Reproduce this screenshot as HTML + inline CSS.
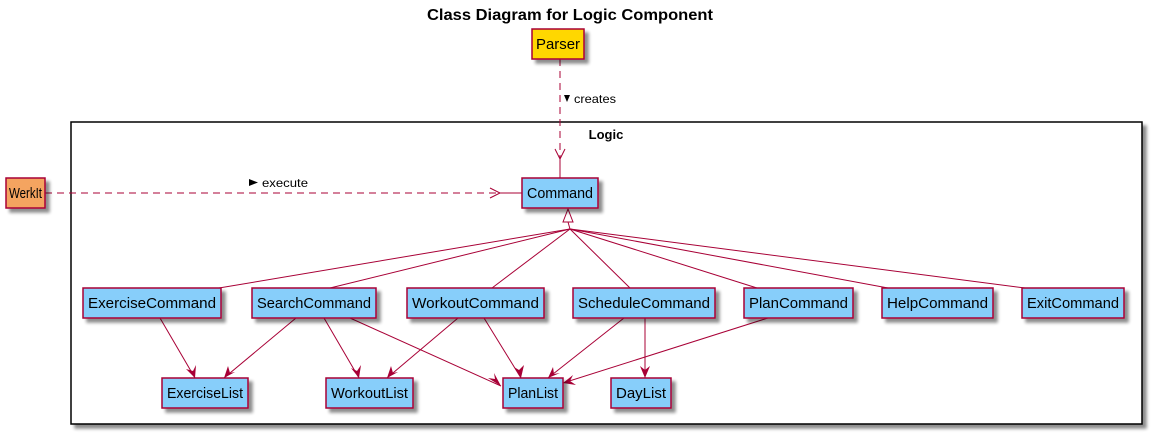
<!DOCTYPE html>
<html><head><meta charset="utf-8"><style>
html,body{margin:0;padding:0;background:#fff;width:1152px;height:434px;overflow:hidden}
svg text{font-family:"Liberation Sans",sans-serif}
</style></head><body>
<svg width="1152" height="434" viewBox="0 0 1152 434" xmlns="http://www.w3.org/2000/svg">
<defs>
<filter id="sh" x="-10%" y="-10%" width="130%" height="140%"><feGaussianBlur in="SourceAlpha" stdDeviation="1.5"/><feOffset dx="4" dy="4"/><feComponentTransfer><feFuncA type="linear" slope="0.45"/></feComponentTransfer><feMerge><feMergeNode/><feMergeNode in="SourceGraphic"/></feMerge></filter>
</defs>
<text x="570" y="20" text-anchor="middle" font-size="16" font-weight="bold" textLength="286" lengthAdjust="spacingAndGlyphs">Class Diagram for Logic Component</text>
<rect x="71" y="122" width="1071" height="302" fill="#fff" stroke="#000" stroke-width="1.5" filter="url(#sh)"/>
<text x="606" y="139" text-anchor="middle" font-size="13" font-weight="bold">Logic</text>
<g stroke="#A80036" fill="none" stroke-width="1">
<line x1="560" y1="59" x2="560" y2="159" stroke-dasharray="7,5"/>
<polyline points="555,149 560,159 565,149" />
<line x1="560" y1="159" x2="560" y2="178"/>
<line x1="45" y1="193" x2="500" y2="193" stroke-dasharray="7,5"/>
<polyline points="490,188 500,193 490,198"/>
<line x1="500" y1="193" x2="522" y2="193"/>
<polygon points="568,209 563,222 573,222" fill="#fff"/>
<line x1="568" y1="222" x2="570" y2="229"/>
<line x1="570" y1="229" x2="219" y2="288"/>
<line x1="570" y1="229" x2="330" y2="288"/>
<line x1="570" y1="229" x2="492" y2="288"/>
<line x1="570" y1="229" x2="630" y2="288"/>
<line x1="570" y1="229" x2="757" y2="288"/>
<line x1="570" y1="229" x2="888" y2="288"/>
<line x1="570" y1="229" x2="1025" y2="288"/>
<line x1="160" y1="318" x2="195" y2="378"/>
<line x1="296" y1="318" x2="224" y2="378"/>
<line x1="324" y1="318" x2="359" y2="378"/>
<line x1="350" y1="318" x2="501" y2="386"/>
<line x1="458" y1="318" x2="387" y2="378"/>
<line x1="484" y1="318" x2="521" y2="378"/>
<line x1="624" y1="318" x2="548" y2="378"/>
<line x1="645" y1="318" x2="645" y2="378"/>
<line x1="768" y1="318" x2="563" y2="383"/>
</g>
<g fill="#A80036">
<polygon points="195,378 186,369 193,371 196,365"/>
<polygon points="224,378 228,366 230,373 235,372"/>
<polygon points="359,378 351,368 357,371 361,365"/>
<polygon points="501,386 488,378 495,379 494,373"/>
<polygon points="387,378 391,366 393,373 398,372"/>
<polygon points="521,378 514,367 519,370 524,365"/>
<polygon points="548,378 553,367 554,374 560,373"/>
<polygon points="645,378 640,366 645,370 650,366"/>
<polygon points="563,383 573,375 570,381 576,385"/>
</g>
<text x="574" y="103" font-size="12" textLength="42" lengthAdjust="spacingAndGlyphs">creates</text>
<polygon points="564,95 570,95 567,102" fill="#000"/>
<text x="262" y="187" font-size="12" textLength="46" lengthAdjust="spacingAndGlyphs">execute</text>
<polygon points="249,179 258,182.5 249,186" fill="#000"/>
<g stroke="#A80036" stroke-width="1.5" filter="url(#sh)">
<rect x="532" y="29" width="52" height="30" fill="#FFD700"/>
<rect x="6" y="178" width="39" height="30" fill="#F4A460"/>
<rect x="522" y="178" width="76" height="30" fill="#87CEFA"/>
<rect x="83" y="288" width="138" height="30" fill="#87CEFA"/>
<rect x="252" y="288" width="124" height="30" fill="#87CEFA"/>
<rect x="407" y="288" width="137" height="30" fill="#87CEFA"/>
<rect x="573" y="288" width="142" height="30" fill="#87CEFA"/>
<rect x="744" y="288" width="109" height="30" fill="#87CEFA"/>
<rect x="882" y="288" width="111" height="30" fill="#87CEFA"/>
<rect x="1022" y="288" width="102" height="30" fill="#87CEFA"/>
<rect x="162" y="378" width="86" height="30" fill="#87CEFA"/>
<rect x="326" y="378" width="87" height="30" fill="#87CEFA"/>
<rect x="503" y="378" width="60" height="30" fill="#87CEFA"/>
<rect x="611" y="378" width="60" height="30" fill="#87CEFA"/>
</g>
<g font-size="15" text-anchor="middle" lengthAdjust="spacingAndGlyphs">
<text x="558" y="49" textLength="44" lengthAdjust="spacingAndGlyphs">Parser</text>
<text x="25.5" y="198" textLength="33" lengthAdjust="spacingAndGlyphs">WerkIt</text>
<text x="560" y="198" textLength="66" lengthAdjust="spacingAndGlyphs">Command</text>
<text x="152" y="308" textLength="128" lengthAdjust="spacingAndGlyphs">ExerciseCommand</text>
<text x="314" y="308" textLength="114" lengthAdjust="spacingAndGlyphs">SearchCommand</text>
<text x="475.5" y="308" textLength="127" lengthAdjust="spacingAndGlyphs">WorkoutCommand</text>
<text x="644" y="308" textLength="132" lengthAdjust="spacingAndGlyphs">ScheduleCommand</text>
<text x="798.5" y="308" textLength="99" lengthAdjust="spacingAndGlyphs">PlanCommand</text>
<text x="937.5" y="308" textLength="101" lengthAdjust="spacingAndGlyphs">HelpCommand</text>
<text x="1073" y="308" textLength="92" lengthAdjust="spacingAndGlyphs">ExitCommand</text>
<text x="205" y="398" textLength="76" lengthAdjust="spacingAndGlyphs">ExerciseList</text>
<text x="369.5" y="398" textLength="77" lengthAdjust="spacingAndGlyphs">WorkoutList</text>
<text x="533" y="398" textLength="50" lengthAdjust="spacingAndGlyphs">PlanList</text>
<text x="641" y="398" textLength="50" lengthAdjust="spacingAndGlyphs">DayList</text>
</g>
</svg>
</body></html>
